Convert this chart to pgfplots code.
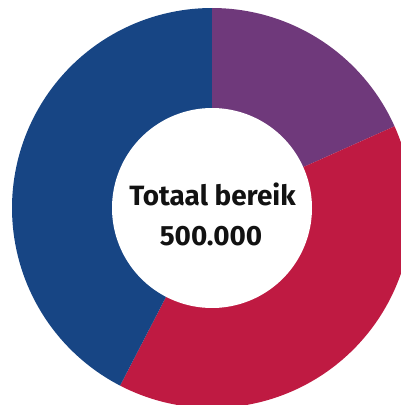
\documentclass[border=0pt]{standalone}
\usepackage{pgfplots}
\pgfplotsset{compat=1.18}
\usepackage{fontspec}
\setmainfont{Fira Sans}
\definecolor{cblue}{RGB}{23,69,132}
\definecolor{cpurple}{RGB}{111,57,123}
\definecolor{cred}{RGB}{191,26,66}

% shares of the total reach (percent), clockwise from 12 o'clock
\def\shareA{18.3}
\def\shareB{39.3}
\def\shareC{42.4}

\begin{document}
\begin{tikzpicture}
\begin{axis}[
    x=1bp, y=1bp,
    xmin=-212, xmax=189,
    ymin=-197, ymax=208,
    hide axis,
    scale only axis,
    clip=true,
]
\pgfmathsetmacro{\aA}{90}
\pgfmathsetmacro{\aB}{90-3.6*\shareA}
\pgfmathsetmacro{\aC}{\aB-3.6*\shareB}
\pgfmathsetmacro{\aD}{\aC-3.6*\shareC}
\addplot[fill=cpurple, draw=none, domain=\aA:\aB, samples=80, variable=\t]
    ({200*cos(\t)},{200*sin(\t)}) -- (0,0) -- cycle;
\addplot[fill=cred, draw=none, domain=\aB:\aC, samples=120, variable=\t]
    ({200*cos(\t)},{200*sin(\t)}) -- (0,0) -- cycle;
\addplot[fill=cblue, draw=none, domain=\aC:\aD, samples=120, variable=\t]
    ({200*cos(\t)},{200*sin(\t)}) -- (0,0) -- cycle;
\addplot[fill=white, draw=none, domain=0:360, samples=160, variable=\t]
    ({100*cos(\t)},{100*sin(\t)}) -- cycle;
\node[anchor=base, font=\fontsize{28}{32}\selectfont\bfseries, text=black!93] at (0.5,2) {Totaal bereik};
\node[anchor=base, font=\fontsize{28}{32}\selectfont\bfseries, text=black!93] at (-1,-38) {500.000};
\end{axis}
\pgfresetboundingbox
\path (0,0) rectangle (401bp,405bp);
\end{tikzpicture}
\end{document}
